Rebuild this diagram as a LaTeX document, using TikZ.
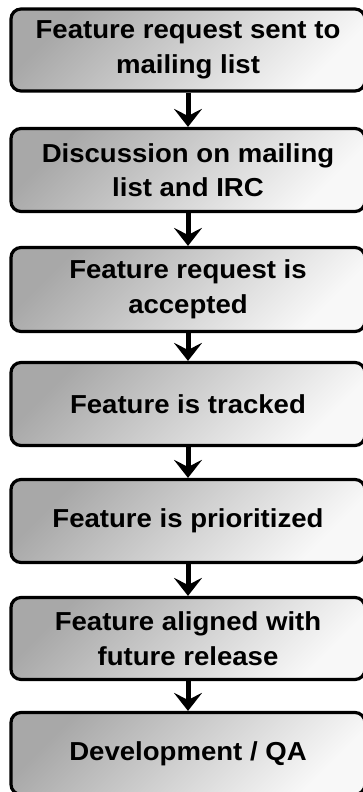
\documentclass[tikz,border=0pt]{standalone}
\usepackage{fontspec}
\setmainfont[FakeStretch=1.06]{Liberation Sans}
\usetikzlibrary{arrows.meta}
\definecolor{shdark}{RGB}{168,168,168}
\definecolor{shlight}{RGB}{248,248,248}
\tikzset{
  stepbox/.style={draw=black, line width=3.2pt, rounded corners=10pt,
    shading=axis, top color=shdark, bottom color=shlight, shading angle=45,
    minimum width=354pt, minimum height=#1, inner sep=0pt,
    align=center, font=\fontsize{26}{34.5}\selectfont\bfseries},
  stepbox/.default=82pt,
  flow/.style={line width=5pt, -{Stealth[length=18pt, width=28pt, inset=7pt]}}
}
\begin{document}
\begin{tikzpicture}[x=1pt,y=1pt]
\useasboundingbox (0,0) rectangle (363,-792);
\clip (0,0) rectangle (363,-792);
\node[stepbox] (b1) at (188,-50) {Feature request sent to\\mailing list};
\node[stepbox=83pt] (b2) at (188,-170) {Discussion on mailing\\list and IRC};
\node[stepbox=84pt] (b3) at (188,-289.5) {Feature request is\\accepted};
\node[stepbox=83pt] (b4) at (188,-404) {Feature is tracked};
\node[stepbox=83pt] (b5) at (188,-521) {Feature is prioritized};
\node[stepbox] (b6) at (188,-638.5) {Feature aligned with\\future release};
\node[stepbox] (b7) at (188,-753.5) {Development / QA};
\foreach \a/\b in {b1/b2,b2/b3,b3/b4,b4/b5,b5/b6,b6/b7}
  \draw[flow] (\a.south) -- (\b.north);
\end{tikzpicture}
\end{document}
